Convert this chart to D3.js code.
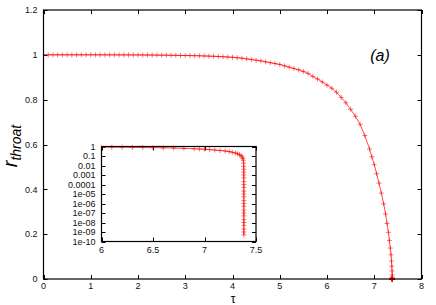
<!DOCTYPE html>
<html>
<head>
<meta charset="utf-8">
<script src="https://cdn.jsdelivr.net/npm/d3@7"></script>
<style>
body{margin:0;background:#fff}
svg{display:block;font-family:"Liberation Sans",Arial,sans-serif}
</style>
</head>
<body>
<div id="chart"></div>
<script>
// throat radius vs proper time
const tau=[0,0.1,0.2,0.3,0.4,0.5,0.6,0.7,0.8,0.9,1.0,1.1,1.2,1.3,1.4,1.5,1.6,1.7,1.8,1.9,
2.0,2.1,2.2,2.3,2.4,2.5,2.6,2.7,2.8,2.9,3.0,3.1,3.2,3.3,3.4,3.5,3.6,3.7,3.8,3.9,
4.0,4.1,4.2,4.3,4.4,4.5,4.6,4.7,4.8,4.9,5.0,5.1,5.2,5.3,5.4,5.5,5.6,5.7,5.8,5.9,
6.0,6.1,6.2,6.3,6.4,6.5,6.6,6.7,6.8,6.9,6.95,7.0,7.05,7.1,7.15,7.2,7.24,7.27,7.30,7.32,
7.34,7.355,7.365,7.372,7.377,7.380,7.381,7.3812,7.3814,7.3815,7.3816,7.3817,7.3818,7.3818,7.3819,
7.3819,7.3819,7.3820,7.3820,7.3820,7.3820,7.3820,7.3820,7.3820,7.3820,7.3820,7.3820,7.3820,7.3820]
const rThroat=[1,1,1,1,1,1,1,1,1,1,1,1,1,0.9999,0.9999,0.9999,0.9998,0.9998,0.9997,0.9996,
0.9995,0.9994,0.9992,0.9990,0.9988,0.9985,0.9982,0.9979,0.9976,0.9973,0.9970,0.9966,0.9962,0.9957,0.9950,0.9943,0.9935,0.9926,0.9915,0.9903,
0.989,0.987,0.985,0.982,0.979,0.976,0.973,0.969,0.965,0.961,0.957,0.951,0.945,0.939,0.933,0.926,0.917,0.904,0.892,0.879,
0.865,0.851,0.833,0.810,0.786,0.757,0.726,0.690,0.640,0.580,0.545,0.510,0.470,0.428,0.383,0.335,0.290,0.248,0.208,0.172,
0.138,0.108,0.080,0.057,0.036,0.018,0.008,0.004,0.002,1e-3,5e-4,2e-4,1e-4,5e-5,2e-5,
1e-5,5e-6,2e-6,1e-6,5e-7,2e-7,1e-7,5e-8,2e-8,1e-8,5e-9,2e-9,1e-9,5e-10]

const xTicks=[0,1,2,3,4,5,6,7,8]
const yTicks=[0,0.2,0.4,0.6,0.8,1,1.2]
const insetXTicks=[6,6.5,7,7.5]
const insetYTicks=[1,0.1,0.01,0.001,1e-4,1e-5,1e-6,1e-7,1e-8,1e-9,1e-10]
const insetYLabels=["1","0.1","0.01","0.001","0.0001","1e-05","1e-06","1e-07","1e-08","1e-09","1e-10"]

const W=436,H=305
const data=tau.map((t,i)=>({t:t,r:rThroat[i]}))

const svg=d3.select("#chart").append("svg").attr("width",W).attr("height",H)

const x=d3.scaleLinear().domain([0,8]).range([43.5,421.5])
const y=d3.scaleLinear().domain([0,1.2]).range([279,10])

function frame(g,xs,ys,xt,yt,ylab,fs,xlabY){
const [x0,x1]=xs.range(),[y0,y1]=ys.range()
g.append("rect").attr("x",x0).attr("y",y1).attr("width",x1-x0).attr("height",y0-y1)
.attr("fill","#fff").attr("stroke","none")
// ticks, mirrored, pointing inward
xt.forEach(v=>{
const px=Math.round(xs(v))+0.5
g.append("line").attr("x1",px).attr("x2",px).attr("y1",y0).attr("y2",y0-4).attr("stroke","#000")
g.append("line").attr("x1",px).attr("x2",px).attr("y1",y1).attr("y2",y1+4).attr("stroke","#000")
g.append("text").attr("x",xs(v)).attr("y",xlabY).attr("text-anchor","middle")
.attr("font-size",fs).attr("fill","#111").text(d3.format("")(v))
})
yt.forEach((v,i)=>{
const py=Math.round(ys(v))+0.5
g.append("line").attr("x1",x0).attr("x2",x0+4).attr("y1",py).attr("y2",py).attr("stroke","#000")
g.append("line").attr("x1",x1).attr("x2",x1-4).attr("y1",py).attr("y2",py).attr("stroke","#000")
g.append("text").attr("x",x0-6).attr("y",ys(v)+3.2).attr("text-anchor","end")
.attr("font-size",fs).attr("fill","#111").text(ylab(v,i))
})
}

function curve(g,xs,ys,pts){
const [x0,x1]=xs.range(),[y0,y1]=ys.range()
const id="c"+Math.round(x0)
g.append("clipPath").attr("id",id).append("rect")
.attr("x",x0).attr("y",y1-3).attr("width",x1-x0).attr("height",y0-y1+6)
const c=g.append("g").attr("clip-path","url(#"+id+")")
c.append("path").datum(pts).attr("fill","none").attr("stroke","#ff0000")
.attr("stroke-width",1).attr("stroke-opacity",0.7)
.attr("d",d3.line().x(d=>xs(d.t)).y(d=>ys(d.r)))
c.selectAll("path.m").data(pts).enter().append("path").attr("class","m")
.attr("d",d=>{const px=xs(d.t),py=ys(d.r)
return "M"+(px-2.5)+","+py+"h5M"+px+","+(py-2.5)+"v5"})
.attr("stroke","#ff0000").attr("stroke-width",1).attr("stroke-opacity",0.55)
}

function border(g,xs,ys){
const [x0,x1]=xs.range(),[y0,y1]=ys.range()
g.append("rect").attr("x",x0).attr("y",y1).attr("width",x1-x0).attr("height",y0-y1)
.attr("fill","none").attr("stroke","#000").attr("stroke-width",1.2)
}

const main=svg.append("g")
frame(main,x,y,xTicks,yTicks,v=>d3.format("")(+v.toFixed(1)),9,289)
curve(main,x,y,data)
border(main,x,y)

// inset, log scale
const xi=d3.scaleLinear().domain([6,7.5]).range([101.5,256])
const yi=d3.scaleLog().domain([1e-10,1]).range([241.5,146.5])
const inset=svg.append("g")
frame(inset,xi,yi,insetXTicks,insetYTicks,(v,i)=>insetYLabels[i],9,253)
curve(inset,xi,yi,data.filter(d=>d.t>=6))
border(inset,xi,yi)

// labels
svg.append("text").attr("x",380).attr("y",61).attr("text-anchor","middle")
.attr("font-size",16).attr("font-style","italic").text("(a)")

svg.append("text").attr("x",233).attr("y",303).attr("text-anchor","middle")
.attr("font-size",12).text("τ")

const yl=svg.append("text").attr("transform","translate(17,146) rotate(-90)")
.attr("text-anchor","middle").attr("font-style","italic")
yl.append("tspan").attr("font-size",20).text("r")
yl.append("tspan").attr("font-size",14).attr("dy",4).text("throat")
</script>
</body>
</html>
